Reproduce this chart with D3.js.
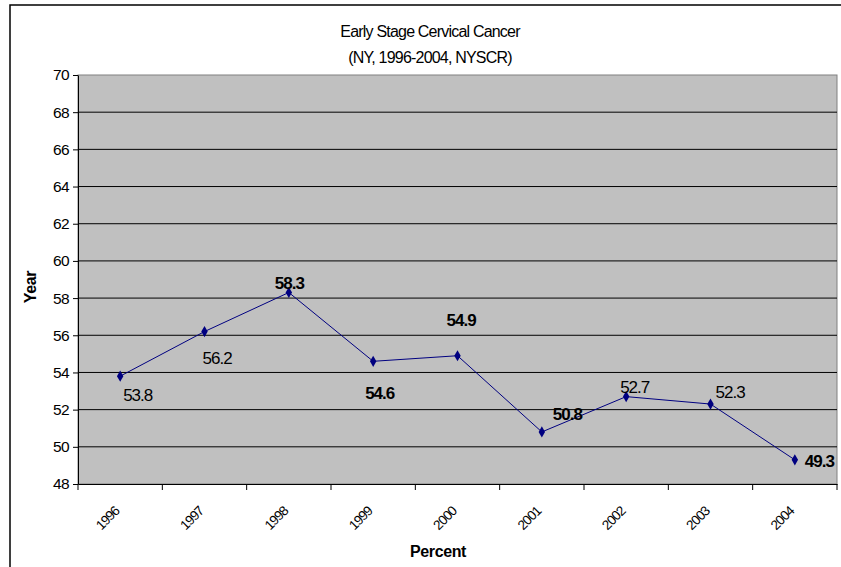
<!DOCTYPE html>
<html><head><meta charset="utf-8">
<script src="https://cdn.jsdelivr.net/npm/d3@7"></script>
<style>body{margin:0;background:#fff}svg{display:block;font-family:"Liberation Sans",Arial,sans-serif}</style>
</head><body><svg id="c" width="841" height="567"></svg>
<script>
const years = ["1996","1997","1998","1999","2000","2001","2002","2003","2004"];
const values = [53.8,56.2,58.3,54.6,54.9,50.8,52.7,52.3,49.3];
const boldLabel = [false,false,true,true,true,true,false,false,true];
const labelDx = [3,-2,-14,-8,-11,11,-6,5,10];
const labelDy = [25,32,-4,38,-30,-12,-4,-6,7];
const yTicks = [48,50,52,54,56,58,60,62,64,66,68,70];

const svg = d3.select("#c");
const L=78,R=837,T=75,B=484;
svg.append("rect").attr("x",10).attr("y",5).attr("width",900).attr("height",700)
  .attr("fill","#fff").attr("stroke","#000").attr("stroke-width",1.5);

const x = d3.scaleBand().domain(years).range([L,R]).padding(0);
const y = d3.scaleLinear().domain([48,70]).range([B,T]);

svg.append("rect").attr("x",L).attr("y",T).attr("width",R-L).attr("height",B-T)
  .attr("fill","#C0C0C0").attr("stroke","#808080").attr("stroke-width",1);

svg.append("g").selectAll("line").data(yTicks.filter(d=>d>48&&d<70)).join("line")
  .attr("x1",L).attr("x2",R).attr("y1",d=>y(d)).attr("y2",d=>y(d))
  .attr("stroke","#000").attr("stroke-width",1);

const ya = svg.append("g").attr("transform",`translate(${L},0)`)
  .call(d3.axisLeft(y).tickValues(yTicks).tickSize(5).tickSizeOuter(0).tickPadding(4));
ya.select(".domain").attr("stroke","#000");
ya.selectAll("text").attr("font-size",15.5).attr("fill","#000").attr("letter-spacing",-0.6).attr("font-family","Liberation Sans, Arial");

const xa = svg.append("g").attr("transform",`translate(0,${B})`)
  .call(d3.axisBottom(x).tickValues([]).tickSizeOuter(0));
xa.select(".domain").attr("stroke","#000");
svg.append("g").selectAll("line").data(years.concat(["_end"])).join("line")
  .attr("x1",(d,i)=>L+i*x.bandwidth()).attr("x2",(d,i)=>L+i*x.bandwidth())
  .attr("y1",B).attr("y2",B+6).attr("stroke","#000");

svg.append("g").selectAll("text").data(years).join("text")
  .attr("transform",d=>`translate(${x(d)+x.bandwidth()/2},${B+28}) rotate(-45)`)
  .attr("text-anchor","end").attr("font-size",13.5).attr("letter-spacing",-0.9).text(d=>d);

const pts = years.map((d,i)=>[x(d)+x.bandwidth()/2, y(values[i])]);
svg.append("path").attr("d",d3.line()(pts)).attr("fill","none").attr("stroke","#000080").attr("stroke-width",1);
svg.append("g").selectAll("path").data(pts).join("path")
  .attr("d",d3.symbol(d3.symbolDiamond,36)()).attr("transform",p=>`translate(${p[0]},${p[1]})`)
  .attr("fill","#000080");

svg.append("g").selectAll("text").data(values).join("text")
  .attr("x",(d,i)=>pts[i][0]+labelDx[i]).attr("y",(d,i)=>pts[i][1]+labelDy[i])
  .attr("font-size",17).attr("letter-spacing",-1)
  .attr("font-weight",(d,i)=>boldLabel[i]?"bold":"normal").text(d=>d.toFixed(1));

svg.append("text").attr("x",430).attr("y",37).attr("text-anchor","middle").attr("font-size",16).attr("letter-spacing",-0.8).text("Early Stage Cervical Cancer");
svg.append("text").attr("x",430).attr("y",63).attr("text-anchor","middle").attr("font-size",16).attr("letter-spacing",-0.8).text("(NY, 1996-2004, NYSCR)");
svg.append("text").attr("transform","translate(36,287) rotate(-90)").attr("text-anchor","middle").attr("font-size",16).attr("font-weight","bold").attr("letter-spacing",-0.3).text("Year");
svg.append("text").attr("x",438).attr("y",557).attr("text-anchor","middle").attr("font-size",16).attr("font-weight","bold").attr("letter-spacing",-0.4).text("Percent");
</script></body></html>
